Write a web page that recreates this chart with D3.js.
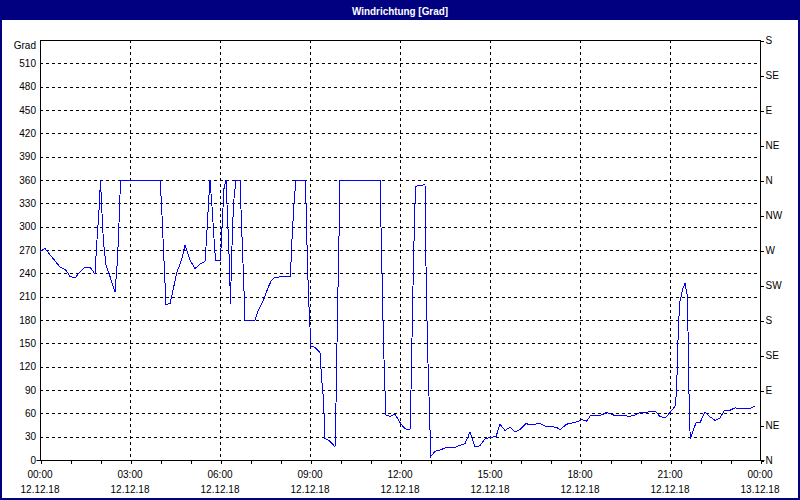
<!DOCTYPE html>
<html>
<head>
<meta charset="utf-8">
<script src="https://cdn.jsdelivr.net/npm/d3@7"></script>
<style>
  html, body { margin: 0; padding: 0; background: #fff; }
  svg { display: block; }
  text { font-family: "Liberation Sans", Arial, sans-serif; font-size: 10px; fill: #000; }
</style>
</head>
<body>
<svg id="chart" width="800" height="500"></svg>
<script>
// ---- data (minutes after 12.12.18 00:00, wind direction in degrees) ----
const minutes = [0,10,40,52,60,70,80,90,100,110,113,118,121,123,127,132,140,150,155,159,161,240,243,247,251,252,260,267,273,283,290,300,310,320,330,333,337,340,344,348,351,361,363,368,372,375,379,381,383,387,392,400,403,407,410,430,437,447,457,463,470,501,503,508,512,531,533,537,540,541,550,560,563,567,570,580,590,592,595,598,600,680,683,687,690,691,700,710,720,730,740,742,747,751,770,772,775,780,781,790,800,813,830,840,850,860,870,879,890,900,912,920,930,940,950,960,972,980,1000,1012,1023,1033,1040,1053,1067,1077,1083,1093,1101,1120,1133,1143,1150,1170,1180,1190,1200,1213,1220,1230,1240,1250,1260,1270,1273,1277,1280,1285,1290,1295,1297,1299,1301,1307,1312,1320,1330,1339,1350,1360,1368,1380,1390,1407,1420,1429];
const degrees = [268,272,248,244,236,234,242,248,248,239,274,321,360,330,279,251,236,216,257,321,360,360,330,270,214,200,201,221,240,257,276,257,246,252,255,284,330,360,326,285,257,257,287,349,360,313,249,200,257,330,360,360,304,236,180,180,193,206,223,231,235,236,272,330,360,360,300,210,171,146,145,138,107,77,28,24,17,73,189,287,360,360,270,150,90,58,56,59,48,40,39,90,257,352,354,249,146,39,4,11,13,16,16,19,21,36,17,18,27,29,30,46,38,42,36,39,47,45,47,43,43,42,39,46,48,50,52,50,57,57,61,59,57,57,56,58,61,61,63,63,56,54,61,69,86,176,204,219,227,210,124,47,27,39,48,48,62,56,51,54,63,64,67,66,66,69];
const leftTicks = [0,30,60,90,120,150,180,210,240,270,300,330,360,390,420,450,480,510];
const rightTicks = [0,45,90,135,180,225,270,315,360,405,450,495,540];
const rightLabels = ["N","NE","E","SE","S","SW","W","NW","N","NE","E","SE","S"];
const hourTicks = d3.range(0, 25, 1);
const labelHours = [0,3,6,9,12,15,18,21,24];
const title = "Windrichtung [Grad]";
const unitLabel = "Grad";

// ---- layout ----
const W = 800, H = 500;
const L = 40, R = 760, T = 40, B = 460;
const t0 = new Date(2018, 11, 12, 0, 0);
const t1 = new Date(2018, 11, 13, 0, 0);
const toDate = m => new Date(2018, 11, 12, 0, m);

const svg = d3.select("#chart");
const x = d3.scaleTime().domain([t0, t1]).range([L, R]);
const y = d3.scaleLinear().domain([0, 540]).range([B, T]);

// background
svg.append("rect").attr("x", 0).attr("y", 0).attr("width", W).attr("height", H).attr("fill", "#fff");

// title bar
svg.append("rect").attr("x", 0).attr("y", 0).attr("width", W).attr("height", 20).attr("fill", "#000080");
svg.append("text").attr("x", 400).attr("y", 10.5).attr("text-anchor", "middle")
  .attr("dominant-baseline", "central")
  .style("font-weight", "bold").style("font-size", "11px").style("fill", "#fff")
  .attr("textLength", 96).attr("lengthAdjust", "spacingAndGlyphs")
  .text(title);

// window border
svg.append("rect").attr("x", 1).attr("y", 1).attr("width", W - 2).attr("height", H - 2)
  .attr("fill", "none").attr("stroke", "#000080").attr("stroke-width", 2);

// horizontal gridlines
svg.append("g").selectAll("line").data(leftTicks.filter(d => d > 0)).join("line")
  .attr("x1", L).attr("x2", R)
  .attr("y1", d => Math.round(y(d)) + 0.5).attr("y2", d => Math.round(y(d)) + 0.5)
  .attr("stroke", "#000").attr("stroke-dasharray", "3,3").attr("shape-rendering", "crispEdges");

// vertical gridlines every 3 hours
svg.append("g").selectAll("line").data(labelHours.filter(h => h > 0 && h < 24)).join("line")
  .attr("x1", h => Math.round(x(toDate(h * 60))) + 0.5).attr("x2", h => Math.round(x(toDate(h * 60))) + 0.5)
  .attr("y1", T).attr("y2", B)
  .attr("stroke", "#000").attr("stroke-dasharray", "3,3").attr("shape-rendering", "crispEdges");

// plot frame
svg.append("rect").attr("x", L + 0.5).attr("y", T + 0.5).attr("width", R - L).attr("height", B - T)
  .attr("fill", "none").attr("stroke", "#000").attr("shape-rendering", "crispEdges");

// bottom axis
const xAxis = d3.axisBottom(x)
  .tickValues(hourTicks.map(h => toDate(h * 60)))
  .tickSize(3).tickSizeOuter(0).tickFormat("");
const gx = svg.append("g").attr("transform", `translate(0.5,${B + 0.5})`).call(xAxis);
gx.select(".domain").attr("stroke", "#000").attr("d", `M${L - 4},0H${R + 4}`);
gx.selectAll(".tick line").attr("stroke", "#000").attr("shape-rendering", "crispEdges");

const fmtTime = d3.timeFormat("%H:%M"), fmtDate = d3.timeFormat("%d.%m.%y");
const lbl = svg.append("g");
labelHours.forEach(h => {
  const d = toDate(h * 60);
  lbl.append("text").attr("x", x(d)).attr("y", 474).attr("text-anchor", "middle")
    .attr("dominant-baseline", "central").text(fmtTime(d));
  lbl.append("text").attr("x", x(d)).attr("y", 489).attr("text-anchor", "middle")
    .attr("dominant-baseline", "central").text(fmtDate(d));
});

// left axis labels
const yAxis = d3.axisLeft(y).tickValues(leftTicks).tickSize(0).tickPadding(4);
const gy = svg.append("g").attr("transform", `translate(${L},0)`).call(yAxis);
gy.select(".domain").remove();
gy.selectAll("text").attr("fill", "#000");
svg.append("text").attr("x", 36).attr("y", 45.5).attr("text-anchor", "end")
  .attr("dominant-baseline", "central").text(unitLabel);

// right axis (compass)
const yr = d3.axisRight(y).tickValues(rightTicks).tickSize(3).tickPadding(2)
  .tickFormat((d, i) => rightLabels[i]);
const gr = svg.append("g").attr("transform", `translate(${R + 0.5},0.5)`).call(yr);
gr.select(".domain").remove();
gr.selectAll(".tick line").attr("stroke", "#000").attr("shape-rendering", "crispEdges");
gr.selectAll("text").attr("fill", "#000");
svg.selectAll(".tick text").attr("font-family", null).attr("font-size", null);

// data line
const pts = minutes.map((m, i) => ({ t: toDate(m), v: degrees[i] }));
const line = d3.line().x(d => x(d.t)).y(d => y(d.v));
svg.append("path").datum(pts).attr("d", line)
  .attr("fill", "none").attr("stroke", "#0000ff").attr("stroke-width", 1)
  .attr("shape-rendering", "crispEdges");
</script>
</body>
</html>
